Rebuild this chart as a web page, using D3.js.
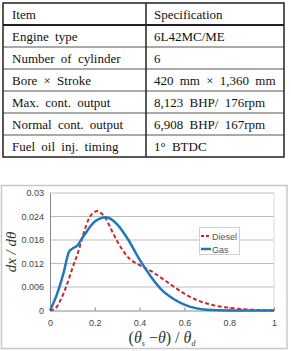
<!DOCTYPE html>
<html>
<head>
<meta charset="utf-8">
<script src="https://cdn.jsdelivr.net/npm/d3@7"></script>
<style>
  body { margin: 0; background: #fff; }
  svg { display: block; }
</style>
</head>
<body>
<script>
// table contents
const items = ["Item", "Engine type", "Number of cylinder", "Bore \u00d7 Stroke",
  "Max. cont. output", "Normal cont. output", "Fuel oil inj. timing"];
const specs = ["Specification", "6L42MC/ME", "6", "420 mm \u00d7 1,360 mm",
  "8,123 BHP/ 176rpm", "6,908 BHP/ 167rpm", "1\u00b0 BTDC"];

// chart data
const gasX = [0, 0.03, 0.06, 0.085, 0.1, 0.12, 0.15, 0.2, 0.25, 0.3, 0.35, 0.4, 0.45, 0.5, 0.55, 0.6, 0.65, 0.7, 0.8, 0.9, 1];
const gasY = [0, 0.0040, 0.0095, 0.0150, 0.0158, 0.0165, 0.0190, 0.0227, 0.0238, 0.0220, 0.0180, 0.0130, 0.0087, 0.0052, 0.0030, 0.0015, 0.0006, 0.0002, 0, 0, 0];
const dieselX = [0, 0.025, 0.05, 0.075, 0.1, 0.125, 0.15, 0.175, 0.2, 0.21, 0.225, 0.25, 0.275, 0.3, 0.35, 0.4, 0.45, 0.5, 0.55, 0.6, 0.65, 0.7, 0.75, 0.8, 0.85, 0.9, 0.95, 1];
const dieselY = [0, 0.0006, 0.0030, 0.0065, 0.0108, 0.0148, 0.0197, 0.0236, 0.0252, 0.0254, 0.0250, 0.0234, 0.0205, 0.0177, 0.0135, 0.0116, 0.0101, 0.0082, 0.0062, 0.0043, 0.0028, 0.0018, 0.0011, 0.0007, 0.0004, 0.0002, 0.0001, 0];
const yTicks = [0, 0.006, 0.012, 0.018, 0.024, 0.03];
const xTicks = [0, 0.2, 0.4, 0.6, 0.8, 1];

const w = 291, h = 351;
const svg = d3.select("body").append("svg").attr("width", w).attr("height", h);

// ---- table ----
const tx0 = 3, tx1 = 284, tdiv = 146, ty0 = 3, rowH = 22;
const rowScale = d3.scaleLinear().domain([0, items.length]).range([ty0, ty0 + rowH * items.length]);
const tbl = svg.append("g").style("font-family", "'Liberation Serif', 'Times New Roman', serif")
  .style("font-size", "13px").style("word-spacing", "3px").style("fill", "#111");

tbl.selectAll("line.row")
  .data(d3.range(1, items.length))
  .enter().append("line")
  .attr("x1", tx0).attr("x2", tx1)
  .attr("y1", d => rowScale(d)).attr("y2", d => rowScale(d))
  .attr("stroke", d => d == 1 ? "#222" : "#555")
  .attr("stroke-width", d => d == 1 ? 2 : 1);
tbl.append("line").attr("x1", tdiv).attr("x2", tdiv).attr("y1", rowScale(0)).attr("y2", rowScale(items.length))
  .attr("stroke", "#222").attr("stroke-width", 1.5);
tbl.append("rect").attr("x", tx0).attr("y", rowScale(0)).attr("width", tx1 - tx0).attr("height", rowScale(items.length) - rowScale(0))
  .attr("fill", "none").attr("stroke", "#222").attr("stroke-width", 1.5);

tbl.selectAll("text.item").data(items).enter().append("text")
  .attr("x", 12).attr("y", (d, i) => rowScale(i) + 16)
  .text(d => d);
tbl.selectAll("text.spec").data(specs).enter().append("text")
  .attr("x", 154).attr("y", (d, i) => rowScale(i) + 16)
  .text(d => d);

// ---- chart ----
svg.append("rect").attr("x", 1.5).attr("y", 185.5).attr("width", 285.5).attr("height", 163)
  .attr("fill", "#fff").attr("stroke", "#c8c8c8").attr("stroke-width", 1.5);

const x = d3.scaleLinear().domain([0, 1]).range([50, 274]);
const y = d3.scaleLinear().domain([0, 0.03]).range([310.5, 193]);

const g = svg.append("g");
g.selectAll("line.grid").data(yTicks.slice(1)).enter().append("line")
  .attr("x1", x(0)).attr("x2", x(1))
  .attr("y1", d => y(d)).attr("y2", d => y(d))
  .attr("stroke", "#bdbdbd").attr("stroke-width", 1);
g.append("line").attr("x1", x(1)).attr("x2", x(1)).attr("y1", y(0.03)).attr("y2", y(0))
  .attr("stroke", "#d8d8d8");

const yAxis = d3.axisLeft(y).tickValues(yTicks).tickSize(0).tickPadding(6)
  .tickFormat(d => d === 0 ? "0" : d3.format(".3~f")(d));
const xAxis = d3.axisBottom(x).tickValues(xTicks).tickSizeInner(-3).tickSizeOuter(0).tickPadding(9)
  .tickFormat(d => d3.format("~g")(d));

const ya = g.append("g").attr("transform", `translate(${x(0)},0)`).call(yAxis);
const xa = g.append("g").attr("transform", `translate(0,${y(0)})`).call(xAxis);
[ya, xa].forEach(a => {
  a.select(".domain").attr("stroke", "#888");
  a.selectAll(".tick line").attr("stroke", "#888");
  a.selectAll("text").style("font-family", "'Liberation Sans', Arial, sans-serif")
    .style("font-size", "9px").attr("fill", "#444");
});

const line = d3.line().x(d => x(d[0])).y(d => y(d[1])).curve(d3.curveMonotoneX);
const diesel = d3.zip(dieselX, dieselY);
const gas = d3.zip(gasX, gasY);

g.append("path").datum(diesel).attr("d", line).attr("fill", "none")
  .attr("stroke", "#c8262c").attr("stroke-width", 2).attr("stroke-dasharray", "4,2.5");
g.append("path").datum(gas).attr("d", line).attr("fill", "none")
  .attr("stroke", "#1f78bd").attr("stroke-width", 2.5);

// legend
const lg = svg.append("g");
lg.append("rect").attr("x", 199.5).attr("y", 227.5).attr("width", 40).attr("height", 27)
  .attr("fill", "#fff").attr("stroke", "#d0d0d0");
lg.append("line").attr("x1", 201).attr("x2", 211).attr("y1", 236).attr("y2", 236)
  .attr("stroke", "#c8262c").attr("stroke-width", 2).attr("stroke-dasharray", "3,2");
lg.append("line").attr("x1", 201).attr("x2", 211).attr("y1", 249).attr("y2", 249)
  .attr("stroke", "#1f78bd").attr("stroke-width", 2.5);
lg.selectAll("text").data(["Diesel", "Gas"]).enter().append("text")
  .attr("x", 212).attr("y", (d, i) => 239.5 + i * 13)
  .style("font-family", "'Liberation Sans', Arial, sans-serif").style("font-size", "9px")
  .attr("fill", "#555").text(d => d);

// axis titles
svg.append("text").attr("transform", "translate(15.5,252) rotate(-90)")
  .attr("text-anchor", "middle")
  .style("font-family", "'Liberation Serif', 'Times New Roman', serif")
  .style("font-size", "15px").style("font-style", "italic").attr("fill", "#333")
  .text("dx / d\u03b8");

const xt = svg.append("text").attr("x", 162).attr("y", 343).attr("text-anchor", "middle")
  .style("font-family", "'Liberation Serif', 'Times New Roman', serif")
  .style("font-size", "16px").attr("fill", "#333");
xt.append("tspan").text("(");
xt.append("tspan").style("font-style", "italic").text("\u03b8");
xt.append("tspan").attr("dy", 3).style("font-size", "8px").style("font-style", "italic").text("s");
xt.append("tspan").attr("dy", -3).text(" \u2212");
xt.append("tspan").style("font-style", "italic").text("\u03b8");
xt.append("tspan").text(") / ");
xt.append("tspan").style("font-style", "italic").text("\u03b8");
xt.append("tspan").attr("dy", 3).style("font-size", "8px").style("font-style", "italic").text("d");
</script>
</body>
</html>
